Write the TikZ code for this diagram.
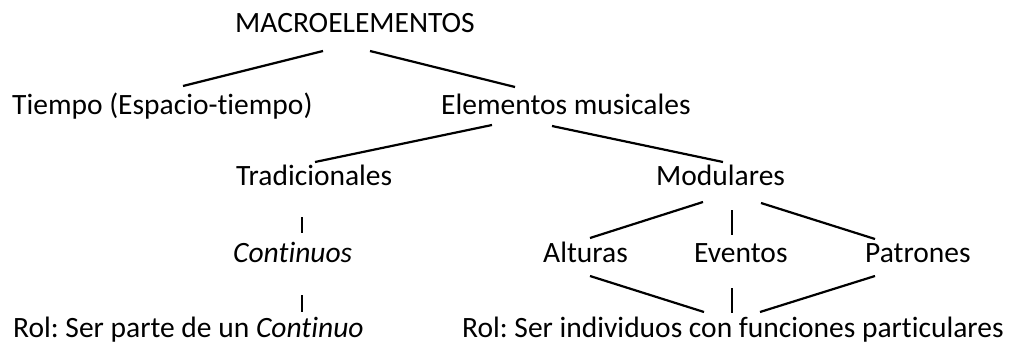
\documentclass[tikz,border=0pt]{standalone}
\usepackage{fontspec}
\setmainfont{Carlito}[Ligatures=CommonOff]
\frenchspacing
\begin{document}
\begin{tikzpicture}[x=1pt,y=-1pt,
  lbl/.style={anchor=base west,inner sep=0pt,font=\fontsize{29.5}{35}\selectfont},
  conn/.style={line width=2.2pt}]
\useasboundingbox (0,0) rectangle (1019,345);
% nodes (base west positions)
\node[lbl] (macro) at (235,33) {MACROELEMENTOS};
\node[lbl] (tiempo) at (12,114) {Tiempo (Espacio-tiempo)};
\node[lbl] (elem) at (441,114) {Elementos musicales};
\node[lbl] (trad) at (236,185) {Tradicionales};
\node[lbl] (modu) at (656,185) {Modulares};
\node[lbl] (cont) at (233,262) {\itshape Continuos};
\node[lbl] (alt) at (543,262) {Alturas};
\node[lbl] (evt) at (694,262) {Eventos};
\node[lbl] (pat) at (865,262) {Patrones};
\node[lbl] (rol1) at (13,337) {Rol: Ser parte de un \textit{Continuo}};
\node[lbl] (rol2) at (462,337) {Rol: Ser individuos con funciones particulares};
% connectors
\draw[conn] ([shift={(88,18)}]macro.base west) -- ([shift={(171,-28)}]tiempo.base west);
\draw[conn] ([shift={(135,18)}]macro.base west) -- ([shift={(74,-27)}]elem.base west);
\draw[conn] ([shift={(51,11)}]elem.base west) -- ([shift={(79,-23)}]trad.base west);
\draw[conn] ([shift={(111,12)}]elem.base west) -- ([shift={(67,-23)}]modu.base west);
\draw[conn] ([shift={(66,32)}]trad.base west) -- ([shift={(69,-29)}]cont.base west);
\draw[conn] ([shift={(69,33)}]cont.base west) -- ([shift={(289,-25)}]rol1.base west);
\draw[conn] ([shift={(47,17)}]modu.base west) -- ([shift={(47,-24)}]alt.base west);
\draw[conn] ([shift={(76,25)}]modu.base west) -- ([shift={(38,-27)}]evt.base west);
\draw[conn] ([shift={(105,18)}]modu.base west) -- ([shift={(10,-23)}]pat.base west);
\draw[conn] ([shift={(47,14)}]alt.base west) -- ([shift={(242,-25)}]rol2.base west);
\draw[conn] ([shift={(38,26)}]evt.base west) -- ([shift={(270,-24)}]rol2.base west);
\draw[conn] ([shift={(10,14)}]pat.base west) -- ([shift={(298,-25)}]rol2.base west);
\end{tikzpicture}
\end{document}
